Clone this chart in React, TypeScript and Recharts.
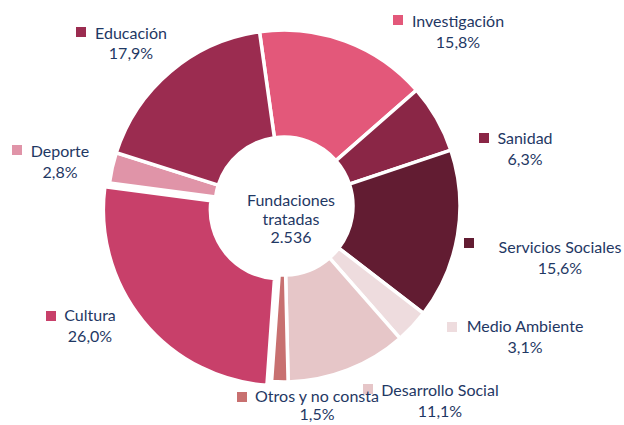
import React from "react";
import { PieChart, Pie, Cell, Label } from "recharts";

const categories = [
  "Investigación",
  "Sanidad",
  "Servicios Sociales",
  "Medio Ambiente",
  "Desarrollo Social",
  "Otros y no consta",
  "Cultura",
  "Deporte",
  "Educación",
];
const values = [15.8, 6.3, 15.6, 3.1, 11.1, 1.5, 26.0, 2.8, 17.9];
const colors = [
  "#E3587A",
  "#8A2646",
  "#621C32",
  "#EEDCDE",
  "#E6C6C8",
  "#C87070",
  "#C8406A",
  "#E094A8",
  "#9B2C50",
];
const centerLines = ["Fundaciones", "tratadas", "2.536"];
const explodedIndex = 6;

// label layout (square x/y, text centre x, name baseline y, pct baseline y)
const labelLayout = [
  { sx: 393, sy: 15, cx: 458, y: 27, py: 48 },
  { sx: 479, sy: 133, cx: 525, y: 144, py: 165 },
  { sx: 464, sy: 238, cx: 560, y: 253, py: 274 },
  { sx: 447, sy: 322, cx: 525, y: 332, py: 353 },
  { sx: 363, sy: 384, cx: 440, y: 396, py: 417 },
  { sx: 237, sy: 392, cx: 317, y: 402, py: 420 },
  { sx: 46, sy: 311, cx: 90, y: 321, py: 342 },
  { sx: 12, sy: 145, cx: 60, y: 157, py: 178 },
  { sx: 76, sy: 27, cx: 131, y: 39, py: 59 },
];

const data = categories.map((name, i) => ({ name, value: values[i] }));

const TEXT = "#1F3864";
const FONT = "Lato, 'Open Sans', sans-serif";
const FS = 16;

const fmt = (v: number) => v.toFixed(1).replace(".", ",") + "%";

const renderLabel = (props: any) => {
  const i = props.index;
  const L = labelLayout[i];
  return (
    <g key={`lbl-${i}`}>
      <rect x={L.sx} y={L.sy} width={10} height={10} fill={colors[i]} />
      <text x={L.cx} y={L.y} textAnchor="middle" fill={TEXT} fontSize={FS} fontFamily={FONT}>
        {categories[i]}
      </text>
      <text x={L.cx} y={L.py} textAnchor="middle" fill={TEXT} fontSize={FS} fontFamily={FONT}>
        {fmt(values[i])}
      </text>
    </g>
  );
};

const CX = 284;
const CY = 206;
const START = 98;
const midFrac = (() => {
  const total = values.reduce((a, b) => a + b, 0);
  let before = 0;
  for (let i = 0; i < explodedIndex; i++) before += values[i];
  return (before + values[explodedIndex] / 2) / total;
})();
const midDeg = START - midFrac * 360;
const EXPLODE = 6;
const ex = EXPLODE * Math.cos((midDeg * Math.PI) / 180);
const ey = -EXPLODE * Math.sin((midDeg * Math.PI) / 180);

export default function App() {
  return (
    <div style={{ position: "absolute", left: 0, top: 0, background: "#fff" }}>
      <PieChart width={624} height={425} margin={{ top: 0, right: 0, bottom: 0, left: 0 }}>
        <Pie
          data={data}
          dataKey="value"
          nameKey="name"
          cx={CX}
          cy={CY}
          innerRadius={69}
          outerRadius={176}
          startAngle={START}
          endAngle={START - 360}
          stroke="#fff"
          strokeWidth={3.5}
          label={renderLabel}
          labelLine={false}
          isAnimationActive={false}
        >
          {data.map((d, i) => (
            <Cell
              key={d.name}
              fill={i === explodedIndex ? "none" : colors[i]}
              stroke={i === explodedIndex ? "none" : "#fff"}
            />
          ))}
          <Label
            position="center"
            content={(p: any) => {
              const vb = p.viewBox || {};
              const x = (vb.cx ?? CX) + 7;
              const y = vb.cy ?? CY;
              return (
                <g>
                  {centerLines.map((t, k) => (
                    <text
                      key={k}
                      x={x}
                      y={y + k * 18.5}
                      textAnchor="middle"
                      fill={TEXT}
                      fontSize={FS}
                      fontFamily={FONT}
                    >
                      {t}
                    </text>
                  ))}
                </g>
              );
            }}
          />
        </Pie>
        <Pie
          data={data}
          dataKey="value"
          nameKey="name"
          cx={CX + ex}
          cy={CY + ey}
          innerRadius={69}
          outerRadius={176}
          startAngle={START}
          endAngle={START - 360}
          stroke="#fff"
          strokeWidth={3.5}
          isAnimationActive={false}
        >
          {data.map((d, i) => (
            <Cell
              key={d.name}
              fill={i === explodedIndex ? colors[i] : "none"}
              stroke={i === explodedIndex ? "#fff" : "none"}
            />
          ))}
        </Pie>
      </PieChart>
    </div>
  );
}
